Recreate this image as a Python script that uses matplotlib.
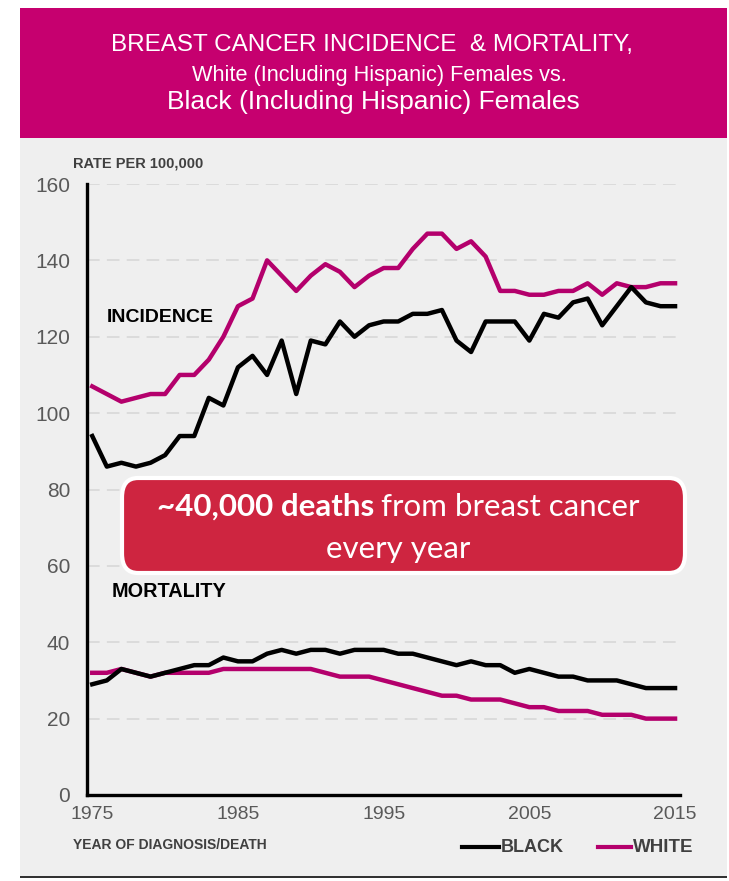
import matplotlib
matplotlib.use('Agg')
import matplotlib.pyplot as plt
from matplotlib.patches import Rectangle, FancyBboxPatch

plt.rcParams['font.family'] = ['Liberation Sans', 'DejaVu Sans']

years = list(range(1975, 2016))

# incidence, rate per 100,000
white_inc = [107, 105, 103, 104, 105, 105, 110, 110, 114, 120, 128, 130, 140, 136, 132,
             136, 139, 137, 133, 136, 138, 138, 143, 147, 147, 143, 145, 141, 132, 132,
             131, 131, 132, 132, 134, 131, 134, 133, 133, 134, 134]
black_inc = [94, 86, 87, 86, 87, 89, 94, 94, 104, 102, 112, 115, 110, 119, 105,
             119, 118, 124, 120, 123, 124, 124, 126, 126, 127, 119, 116, 124, 124, 124,
             119, 126, 125, 129, 130, 123, 128, 133, 129, 128, 128]
# mortality, rate per 100,000
white_mort = [32, 32, 33, 32, 31, 32, 32, 32, 32, 33, 33, 33, 33, 33, 33,
              33, 32, 31, 31, 31, 30, 29, 28, 27, 26, 26, 25, 25, 25, 24,
              23, 23, 22, 22, 22, 21, 21, 21, 20, 20, 20]
black_mort = [29, 30, 33, 32, 31, 32, 33, 34, 34, 36, 35, 35, 37, 38, 37,
              38, 38, 37, 38, 38, 38, 37, 37, 36, 35, 34, 35, 34, 34, 32,
              33, 32, 31, 31, 30, 30, 30, 29, 28, 28, 28]

y_ticks = [0, 20, 40, 60, 80, 100, 120, 140, 160]
x_ticks = [1975, 1985, 1995, 2005, 2015]

MAGENTA = '#c6006f'
LINE_MAG = '#b4006c'
GRAY_BG = '#efefef'
BOX_RED = '#ce2540'
TXT_GRAY = '#595959'
LBL_GRAY = '#404040'

W, H = 729, 881
fig = plt.figure(figsize=(W / 100, H / 100), dpi=100)
fig.patch.set_facecolor('white')


def fx(px):
    return px / W


def fy(py):
    return 1 - py / H


# title band and gray panel
fig.patches.append(Rectangle((fx(20), fy(138)), fx(727) - fx(20), 130 / H,
                             transform=fig.transFigure, facecolor=MAGENTA, edgecolor='none', zorder=-2))
fig.patches.append(Rectangle((fx(20), fy(876)), fx(727) - fx(20), (876 - 138) / H,
                             transform=fig.transFigure, facecolor=GRAY_BG, edgecolor='none', zorder=-2))
fig.patches.append(Rectangle((fx(20), fy(878)), fx(727) - fx(20), 2 / H,
                             transform=fig.transFigure, facecolor='#333333', edgecolor='none', zorder=-2))

fig.text(fx(372), fy(45), 'BREAST CANCER INCIDENCE  & MORTALITY,', color='white',
         fontsize=17.5, ha='center', va='center')
fig.text(fx(379), fy(75), 'White (Including Hispanic) Females vs.', color='white',
         fontsize=15.7, ha='center', va='center')
fig.text(fx(373), fy(102), 'Black (Including Hispanic) Females', color='white',
         fontsize=19, ha='center', va='center')

# chart
ax = fig.add_axes([fx(87), fy(795), fx(680) - fx(87), (795 - 184) / H])
ax.set_facecolor('none')
ax.plot(years, white_inc, color=LINE_MAG, lw=3.2, zorder=3)
ax.plot(years, black_inc, color='black', lw=3.2, zorder=3)
ax.plot(years, white_mort, color=LINE_MAG, lw=3.2, zorder=3)
ax.plot(years, black_mort, color='black', lw=3.2, zorder=4)

ax.set_xlim(1974.64, 2015.34)
ax.set_ylim(0, 160)
ax.set_yticks(y_ticks)
ax.set_xticks(x_ticks)
ax.tick_params(length=0, labelcolor=TXT_GRAY)
ax.tick_params(axis='y', pad=12, labelsize=15)
ax.tick_params(axis='x', pad=8, labelsize=14)

for v in y_ticks[1:]:
    ax.axhline(v, color='#d9d9d9', lw=1.3, dashes=(7, 4), zorder=1)

for s in ['top', 'right']:
    ax.spines[s].set_visible(False)
for s in ['left', 'bottom']:
    ax.spines[s].set_linewidth(2.4)
    ax.spines[s].set_color('black')

ax.text(1976.0, 125.1, 'INCIDENCE', fontsize=14, fontweight='bold', color='black', va='center')
ax.text(1976.35, 53.4, 'MORTALITY', fontsize=14.3, fontweight='bold', color='black', va='center')

fig.text(fx(73), fy(163), 'RATE PER 100,000', fontsize=10.5, fontweight='bold', color=LBL_GRAY, va='center')
fig.text(fx(73), fy(845), 'YEAR OF DIAGNOSIS/DEATH', fontsize=10, fontweight='bold', color=LBL_GRAY, va='center')

# legend
fig.lines.append(plt.Line2D([fx(462), fx(499)], [fy(847), fy(847)], transform=fig.transFigure,
                            color='black', lw=3))
fig.text(fx(501), fy(847), 'BLACK', fontsize=13, fontweight='bold', color=LBL_GRAY, va='center')
fig.lines.append(plt.Line2D([fx(598), fx(631)], [fy(847), fy(847)], transform=fig.transFigure,
                            color=LINE_MAG, lw=3))
fig.text(fx(633), fy(847), 'WHITE', fontsize=13.5, fontweight='bold', color=LBL_GRAY, va='center')

# callout box
box = FancyBboxPatch((fx(122), fy(573)), fx(685) - fx(122), (573 - 478) / H,
                     boxstyle='round,pad=0,rounding_size=0.022', transform=fig.transFigure,
                     facecolor=BOX_RED, edgecolor='white', lw=3, zorder=5)
fig.patches.append(box)

t1 = fig.text(0, fy(507), '~40,000 deaths', fontsize=22.5, fontweight='bold', color='white',
              family=['Lato', 'DejaVu Sans'], va='center', zorder=6)
t2 = fig.text(0, fy(507), 'from breast cancer', fontsize=22.5, color='white',
              family=['Lato', 'DejaVu Sans'], va='center', zorder=6)
fig.text(fx(398), fy(549), 'every year', fontsize=22.5, color='white',
         family=['Lato', 'DejaVu Sans'], ha='center', va='center', zorder=6)

r = fig.canvas.get_renderer()
w1 = t1.get_window_extent(r).width
w2 = t2.get_window_extent(r).width
gap = 7
start = 398 - (w1 + gap + w2) / 2
t1.set_x(fx(start))
t2.set_x(fx(start + w1 + gap))

fig.savefig('out.png', dpi=100)
